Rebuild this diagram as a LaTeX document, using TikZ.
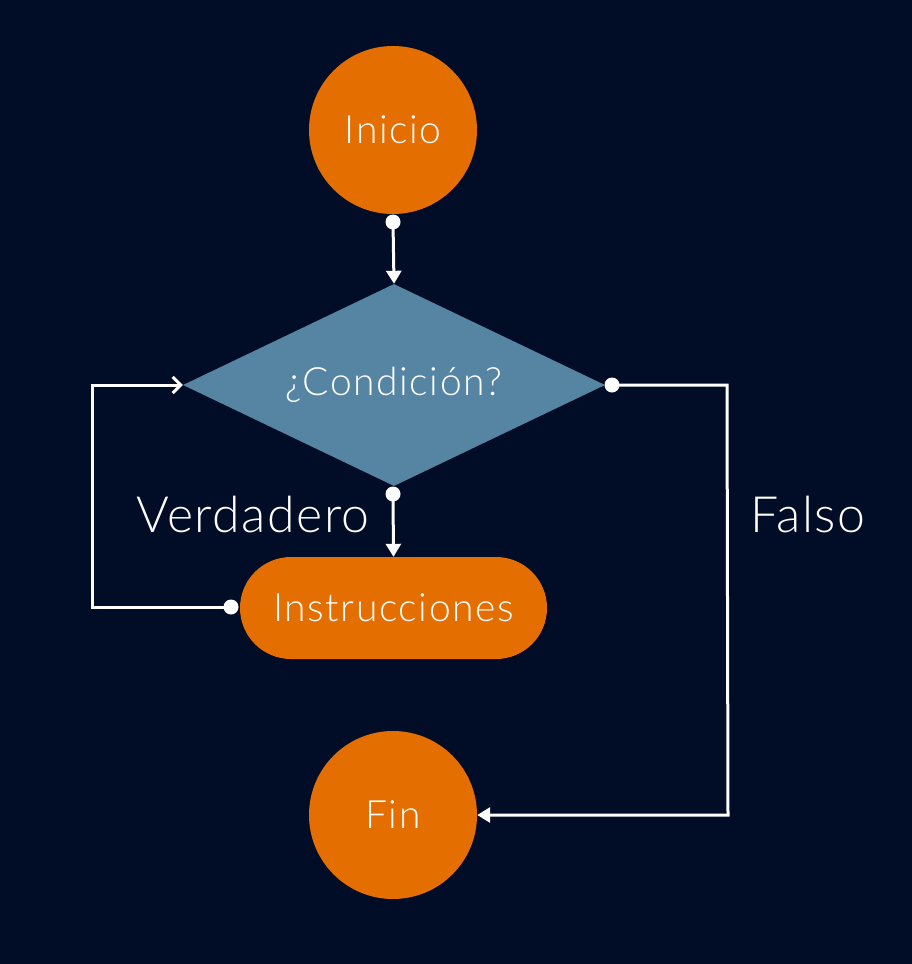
\documentclass[tikz,border=0pt]{standalone}
\usepackage{fontspec}
\setmainfont{Lato Light}
\usetikzlibrary{shapes.geometric,shapes.misc,arrows.meta}
\definecolor{bg}{RGB}{1,13,38}
\definecolor{org}{RGB}{229,110,0}
\definecolor{steel}{RGB}{86,133,163}
\newcommand{\nodefont}{\fontsize{39}{42}\selectfont\addfontfeatures{LetterSpace=4}}
\newcommand{\lblfont}{\fontsize{50}{54}\selectfont\addfontfeatures{LetterSpace=3}}
\tikzset{
  term/.style={circle,fill=org,minimum size=168pt,inner sep=0pt,text=white,font=\nodefont},
  cond/.style={diamond,fill=steel,minimum width=422pt,minimum height=202pt,inner sep=0pt,aspect=2.09,text=white,font=\nodefont},
  proc/.style={rounded rectangle,fill=org,minimum width=307pt,minimum height=102pt,inner sep=0pt,text=white,font=\nodefont},
  lbl/.style={text=white,font=\lblfont},
  conn/.style={draw=white,line width=3pt},
  dot/.style={circle,fill=white,inner sep=0pt,minimum size=15pt},
  fa/.style={-{Triangle[width=15pt,length=13pt]}},
  oa/.style={-{Straight Barb[width=16pt,length=8pt,line width=3pt]}}
}
\begin{document}
\begin{tikzpicture}[x=1pt,y=-1pt]
\fill[bg] (0,0) rectangle (912,964);
\useasboundingbox (0,0) rectangle (912,964);
\node[term] (ini) at (393,130) {Inicio};
\node[cond] (c) at (394,385) {¿Condición?};
\node[proc] (p) at (393.5,608) {Instrucciones};
\node[term] (fin) at (393,815) {Fin};
\node[dot] (d1) at (393,222) {};
\node[dot] (d2) at (612,385) {};
\node[dot] (d3) at (393,494) {};
\node[dot] (d4) at (231,607) {};
\coordinate (c1) at (727,385);
\coordinate (c2) at (728,815);
\coordinate (c3) at (92,607);
\coordinate (c4) at (92,385);
\draw[conn,fa] (d1.center) -- (c.north);
\draw[conn,fa] (d3.center) -- (p.north);
\draw[conn,fa] (d2.center) -- (c1) -- (c2) -- (fin.east);
\draw[conn,oa] (d4.center) -- (c3) -- (c4) -- (c.west);
\node[lbl] (v) at (253,515) {Verdadero};
\node[lbl] (f) at (808,515) {Falso};
\end{tikzpicture}
\end{document}
